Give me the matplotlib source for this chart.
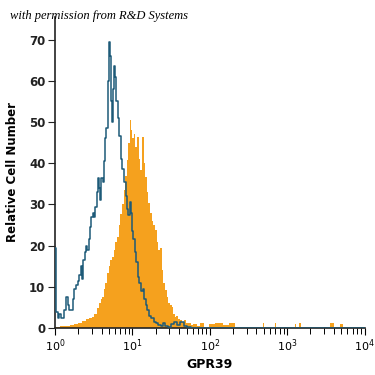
"""Flow cytometry histogram: GPR39 staining vs isotype control."""
import matplotlib

matplotlib.use("Agg")
import matplotlib.pyplot as plt
import numpy as np
from matplotlib.ticker import LogLocator, NullFormatter

# isotype control (blue outline), x in log10 fluorescence units
blue_log = [0.000, 0.010, 0.025, 0.040, 0.060, 0.080, 0.100, 0.125, 0.150, 0.170,
            0.190, 0.215, 0.240, 0.260, 0.280, 0.300, 0.320, 0.340, 0.355, 0.370,
            0.390, 0.410, 0.425, 0.440, 0.460, 0.480, 0.495, 0.510, 0.525, 0.545,
            0.560, 0.575, 0.590, 0.605, 0.620, 0.640, 0.655, 0.670, 0.690, 0.700,
            0.715, 0.730, 0.745, 0.760, 0.770, 0.785, 0.800, 0.820, 0.840, 0.860,
            0.880, 0.900, 0.920, 0.940, 0.955, 0.970, 0.985, 1.000, 1.020, 1.040,
            1.060, 1.080, 1.100, 1.120, 1.140, 1.160, 1.180, 1.200, 1.230, 1.260,
            1.290, 1.320, 1.350, 1.380, 1.410, 1.440, 1.480, 1.520, 1.560, 1.600,
            1.640, 1.680, 1.720, 1.800, 4.000]
blue_count = [19.5, 10.5, 4.0, 2.5, 3.5, 2.5, 2.5, 4.5, 7.5, 5.5,
              4.5, 4.5, 7.0, 9.5, 10.5, 11.5, 13.0, 15.0, 12.0, 16.5,
              18.5, 20.0, 19.0, 21.5, 24.5, 27.0, 28.0, 27.0, 29.5, 33.0,
              36.5, 34.0, 31.0, 36.5, 35.5, 40.5, 46.0, 48.5, 60.0, 69.5,
              66.0, 55.0, 50.0, 58.0, 63.5, 61.0, 55.0, 51.0, 46.5, 41.0,
              38.5, 35.5, 32.0, 29.0, 27.5, 30.5, 28.0, 23.5, 21.5, 18.5,
              16.0, 12.5, 11.0, 9.0, 9.5, 7.0, 5.5, 4.5, 3.0, 2.5,
              1.5, 1.2, 0.8, 0.5, 1.2, 0.6, 0.3, 0.9, 1.5, 0.8,
              1.4, 0.5, 0.2, 0.0, 0.0]

# GPR39 antibody (orange fill)
orange_log = [0.000, 0.026, 0.090, 0.154, 0.218, 0.269, 0.321, 0.372, 0.423, 0.462,
              0.487, 0.526, 0.551, 0.577, 0.603, 0.619, 0.641, 0.660, 0.683, 0.705,
              0.724, 0.747, 0.769, 0.791, 0.812, 0.833, 0.855, 0.876, 0.897, 0.919,
              0.940, 0.955, 0.971, 0.987, 1.004, 1.026, 1.047, 1.068, 1.090, 1.112,
              1.132, 1.154, 1.176, 1.196, 1.218, 1.240, 1.260, 1.282, 1.304, 1.324,
              1.346, 1.368, 1.388, 1.410, 1.432, 1.453, 1.474, 1.496, 1.517, 1.538,
              1.560, 1.577, 1.603, 1.624, 1.654, 1.679, 1.705, 1.731, 1.769, 1.808,
              1.859, 1.897, 1.962, 2.026, 2.115, 2.218, 2.269, 2.372, 2.680, 2.692,
              2.705, 2.835, 2.846, 2.858, 3.090, 3.103, 3.135, 3.167, 3.180, 3.550,
              3.564, 3.640, 3.718, 3.730, 4.000]
orange_count = [0.2, 0.3, 0.5, 0.5, 0.8, 1.0, 1.2, 1.8, 2.2, 2.5,
                2.7, 3.5, 5.0, 6.0, 7.0, 7.6, 9.5, 11.0, 13.3, 15.0,
                16.5, 17.3, 19.0, 21.0, 22.0, 25.0, 27.8, 30.0, 33.4, 37.0,
                40.7, 45.0, 50.4, 48.0, 46.0, 47.2, 44.0, 46.3, 41.0, 38.3,
                46.3, 40.0, 36.6, 33.0, 30.3, 28.0, 26.0, 25.0, 23.7, 21.0,
                18.9, 19.5, 14.0, 11.0, 9.2, 7.5, 6.0, 5.5, 5.2, 3.5,
                2.7, 3.0, 2.2, 1.9, 1.5, 2.0, 1.3, 1.2, 0.8, 1.0,
                0.4, 1.2, 0.3, 1.0, 1.2, 0.8, 1.3, 0.2, 0.2, 1.3,
                0.2, 0.2, 1.2, 0.2, 0.2, 1.0, 0.3, 1.2, 0.2, 0.2,
                1.2, 0.3, 1.0, 0.2, 0.2]

ORANGE = "#F5A11E"
BLUE = "#1D5A78"

fig = plt.figure(figsize=(3.75, 3.75), dpi=100)
ax = fig.add_axes([0.147, 0.125, 0.825, 0.830])

ox = 10 ** np.array(orange_log)
bx = 10 ** np.array(blue_log)
ax.fill_between(ox, orange_count, 0, step="mid", color=ORANGE, lw=0, zorder=2)
ax.step(bx, blue_count, where="mid", color=BLUE, lw=1.1, zorder=3)

ax.set_xscale("log")
ax.set_xlim(1, 1e4)
ax.set_ylim(0, 75.5)
ax.set_yticks(range(0, 80, 10))
ax.xaxis.set_major_locator(LogLocator(base=10, numticks=10))
ax.xaxis.set_minor_locator(LogLocator(base=10, subs=np.arange(2, 10), numticks=50))
ax.xaxis.set_minor_formatter(NullFormatter())

for side in ["top", "right"]:
    ax.spines[side].set_visible(False)
for side in ["left", "bottom"]:
    ax.spines[side].set_linewidth(1.2)
    ax.spines[side].set_color("#222222")

ax.tick_params(axis="y", length=5, width=0.8, labelsize=8.5, pad=2, colors="#222222")
ax.tick_params(axis="x", which="major", length=5, width=0.8, labelsize=8, pad=1.5)
ax.tick_params(axis="x", which="minor", length=4, width=0.7)
for lbl in ax.get_yticklabels():
    lbl.set_fontweight("bold")

ax.set_xlabel("GPR39", fontsize=9, fontweight="bold", labelpad=3)
ax.set_ylabel("Relative Cell Number", fontsize=8.5, fontweight="bold", labelpad=7)

fig.text(0.027, 0.957, "with permission from R&D Systems", fontsize=9,
         family="Liberation Serif", style="italic", va="center", ha="left")

fig.savefig("out.png", dpi=100)
